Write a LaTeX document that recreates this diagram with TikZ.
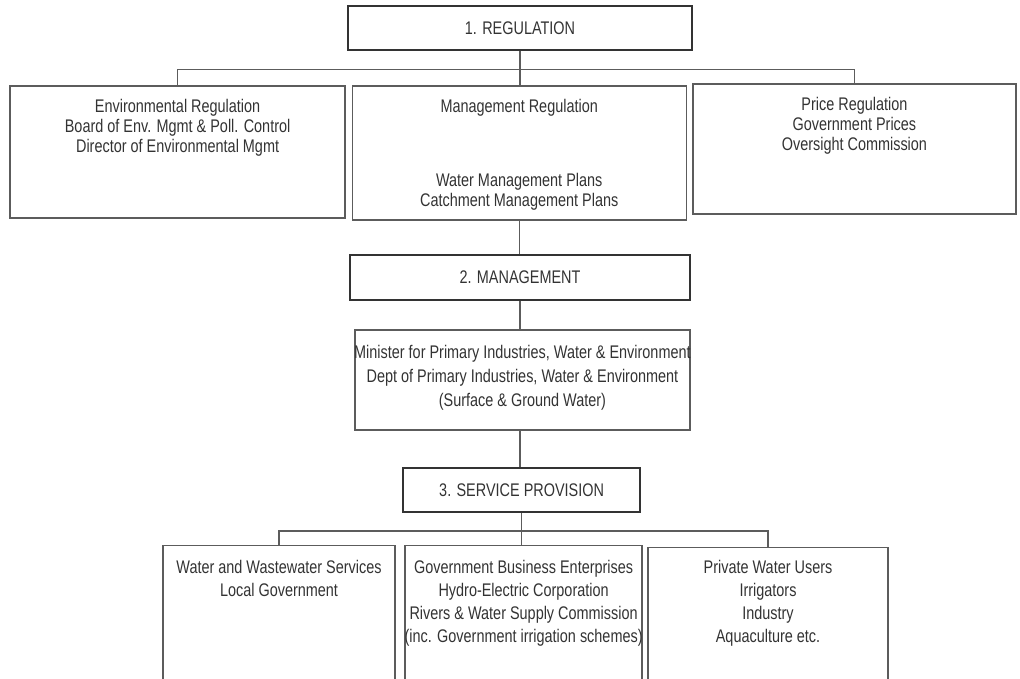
\documentclass[tikz,border=0pt]{standalone}
\usepackage{fontspec}
\setmainfont[FakeStretch=0.79]{Liberation Sans}
\usetikzlibrary{positioning}
\definecolor{inkgray}{HTML}{333333}
\definecolor{linegray}{HTML}{5C5C5C}
\tikzset{
  box/.style={draw=linegray, line width=0.9pt, inner sep=0pt},
  headbox/.style={draw=inkgray, line width=1.4pt, inner sep=0pt, text=inkgray,
    font=\fontsize{13}{14}\selectfont},
  boxtext/.style={anchor=north, align=center, inner sep=0pt, text=inkgray,
    font=\fontsize{13}{14.2}\selectfont},
  link/.style={draw=linegray, line width=0.8pt}
}
\begin{document}
\begin{tikzpicture}
      \useasboundingbox (0,0) rectangle (25.5,-16.95);
      \clip (0,0) rectangle (25.5,-16.95);
      % level 1
      \node[headbox, minimum width=8.6cm, minimum height=1.1cm] (reg) at (13,-0.7) {1. REGULATION};
      \node[box, minimum width=8.375cm, minimum height=3.3cm] (envreg) at (4.44,-3.8) {};
      \node[box, minimum width=8.35cm, minimum height=3.35cm] (mgmtreg) at (12.98,-3.825) {};
      \node[box, minimum width=8.075cm, minimum height=3.25cm] (pricereg) at (21.36,-3.725) {};
      \node[boxtext, below=0.33cm of envreg.north] (envregtxt)
        {Environmental Regulation\\Board of Env. Mgmt \& Poll. Control\\Director of Environmental Mgmt};
      \node[boxtext, below=0.33cm of mgmtreg.north] (mgmtregtxt)
        {Management Regulation\\[1.35cm]Water Management Plans\\Catchment Management Plans};
      \node[boxtext, below=0.33cm of pricereg.north] (priceregtxt)
        {Price Regulation\\Government Prices\\Oversight Commission};
      % level 2
      \node[headbox, minimum width=8.5cm, minimum height=1.125cm] (mgmt) at (13,-6.94) {2. MANAGEMENT};
      \node[box, minimum width=8.375cm, minimum height=2.5cm] (minister) at (13.06,-9.5) {};
      \node[boxtext, font=\fontsize{13}{17}\selectfont, below=0.4cm of minister.north] (ministertxt)
        {Minister for Primary Industries, Water \& Environment\\Dept of Primary Industries, Water \& Environment\\(Surface \& Ground Water)};
      % level 3
      \node[headbox, minimum width=5.925cm, minimum height=1.1cm] (service) at (13.04,-12.25) {3. SERVICE PROVISION};
      \node[box, minimum width=5.8cm, minimum height=3.9cm, anchor=north] (water) at (6.975,-13.625) {};
      \node[box, minimum width=5.925cm, minimum height=3.9cm, anchor=north] (gbe) at (13.09,-13.625) {};
      \node[box, minimum width=6cm, minimum height=3.9cm, anchor=north] (private) at (19.2,-13.675) {};
      \node[boxtext, font=\fontsize{13}{16.3}\selectfont, below=0.38cm of water.north] (watertxt)
        {Water and Wastewater Services\\Local Government};
      \node[boxtext, font=\fontsize{13}{16.3}\selectfont, below=0.38cm of gbe.north] (gbetxt)
        {Government Business Enterprises\\Hydro-Electric Corporation\\Rivers \& Water Supply Commission\\(inc. Government irrigation schemes)};
      \node[boxtext, font=\fontsize{13}{16.3}\selectfont, below=0.33cm of private.north] (privatetxt)
        {Private Water Users\\Irrigators\\Industry\\Aquaculture etc.};
      \begin{scope}[link]
        \draw (reg.south) -- (reg.south |- mgmtreg.north);
        \draw (envreg.north) -- ++(0,0.4) -| (pricereg.north);
        \draw (mgmtreg.south) -- (mgmtreg.south |- mgmt.north);
        \draw (mgmt.south) -- (mgmt.south |- minister.north);
        \draw (minister.south -| mgmt.south) -- (mgmt.south |- service.north);
        \draw (service.south) -- (service.south |- gbe.north);
        \draw (water.north) -- ++(0,0.35) -| (private.north);
      \end{scope}
    \end{tikzpicture}
\end{document}
